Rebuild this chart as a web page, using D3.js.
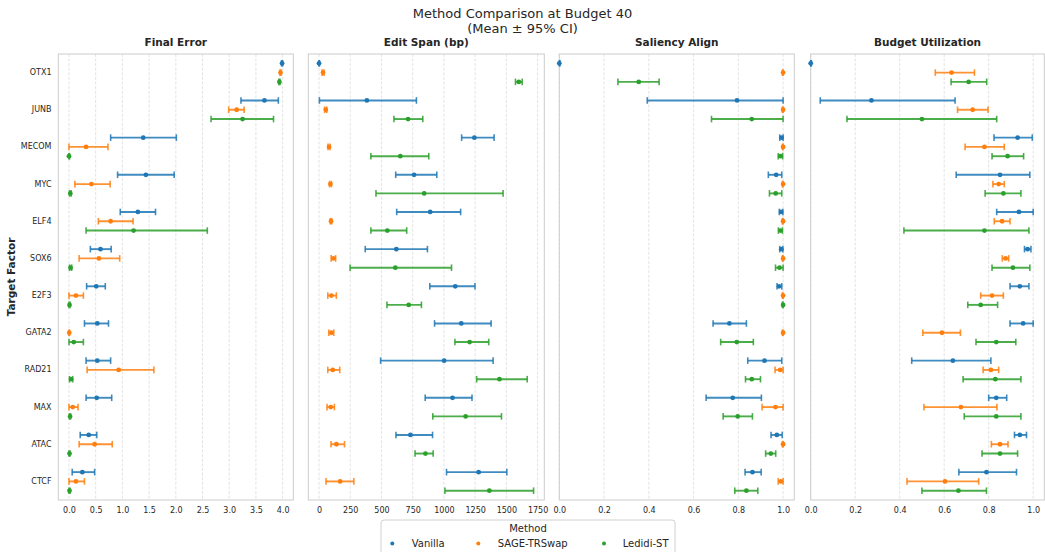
<!DOCTYPE html>
<html><head><meta charset="utf-8">
<script src="https://cdn.jsdelivr.net/npm/d3@7"></script>
<style>body{margin:0;background:#fff} svg{display:block;font-family:"DejaVu Sans",sans-serif}</style>
</head><body><svg id="c" width="1045" height="552"></svg>
<script>
const categories = ["OTX1","JUNB","MECOM","MYC","ELF4","SOX6","E2F3","GATA2","RAD21","MAX","ATAC","CTCF"];
const methods = ["Vanilla","SAGE-TRSwap","Ledidi-ST"];
const colors = ["#1f77b4","#ff7f0e","#2ca02c"];
const metricTitles = ["Final Error","Edit Span (bp)","Saliency Align","Budget Utilization"];
const tickValues1 = [0,0.5,1,1.5,2,2.5,3,3.5,4];
const tickValues2 = [0,250,500,750,1000,1250,1500,1750];
const tickValues3 = [0,0.2,0.4,0.6,0.8,1.0];
const tickValues4 = [0,0.2,0.4,0.6,0.8,1.0];

// each entry: [mean, ciLow, ciHigh]
const finalErrorVanilla = [[3.99,3.98,4.0],[3.66,3.22,3.92],[1.39,0.78,2.01],[1.44,0.91,1.97],[1.29,0.96,1.62],[0.59,0.40,0.79],[0.51,0.33,0.68],[0.53,0.29,0.74],[0.53,0.32,0.78],[0.52,0.32,0.80],[0.37,0.21,0.52],[0.25,0.06,0.48]];
const finalErrorSage = [[3.96,3.95,3.97],[3.14,2.99,3.28],[0.32,0.0,0.73],[0.42,0.11,0.77],[0.78,0.55,1.20],[0.56,0.19,0.95],[0.13,0.0,0.27],[0.005,0.0,0.01],[0.93,0.34,1.59],[0.07,0.0,0.17],[0.48,0.19,0.81],[0.13,0.0,0.29]];
const finalErrorLedidi = [[3.94,3.93,3.95],[3.25,2.66,3.83],[0.0,0.0,0.01],[0.025,0.01,0.04],[1.21,0.32,2.59],[0.03,0.01,0.05],[0.01,0.0,0.02],[0.09,0.0,0.27],[0.04,0.01,0.07],[0.02,0.01,0.03],[0.01,0.0,0.02],[0.01,0.0,0.02]];

const editSpanVanilla = [[0,0,3],[383,3,780],[1244,1142,1402],[761,614,943],[890,622,1134],[619,370,868],[1091,887,1249],[1139,925,1378],[1002,493,1394],[1069,850,1225],[732,616,909],[1278,1021,1504]];
const editSpanSage = [[32,25,40],[54,45,62],[80,72,88],[91,84,99],[96,90,102],[115,97,133],[99,70,139],[99,78,118],[110,70,166],[94,64,123],[139,96,204],[169,56,279]];
const editSpanLedidi = [[1600,1573,1627],[713,600,831],[651,415,879],[842,456,1474],[547,415,702],[611,249,1061],[718,544,820],[1206,1088,1359],[1445,1262,1667],[1174,911,1461],[852,769,914],[1364,1008,1718]];

const saliencyVanilla = [[0.0,0.0,0.003],[0.794,0.393,1.0],[0.993,0.985,1.0],[0.969,0.934,0.994],[0.991,0.983,0.999],[0.992,0.985,0.999],[0.982,0.973,0.994],[0.760,0.687,0.836],[0.917,0.842,0.994],[0.775,0.656,0.903],[0.972,0.946,0.996],[0.863,0.830,0.902]];
const saliencySage = [[1.0,0.997,1.0],[1.0,0.997,1.0],[1.0,0.997,1.0],[1.0,0.997,1.0],[1.0,0.997,1.0],[1.0,0.997,1.0],[1.0,0.997,1.0],[1.0,0.997,1.0],[0.987,0.964,1.0],[0.966,0.906,1.0],[1.0,0.997,1.0],[0.990,0.978,1.0]];
const saliencyLedidi = [[0.355,0.262,0.446],[0.860,0.680,1.0],[0.988,0.978,0.998],[0.967,0.939,0.994],[0.988,0.979,0.997],[0.984,0.966,1.0],[1.0,0.997,1.0],[0.793,0.721,0.867],[0.860,0.832,0.899],[0.797,0.732,0.863],[0.945,0.922,0.967],[0.836,0.784,0.887]];

const budgetVanilla = [[0.0,0.0,0.003],[0.273,0.043,0.649],[0.930,0.824,0.996],[0.851,0.654,0.985],[0.936,0.836,1.0],[0.975,0.961,0.990],[0.940,0.896,0.981],[0.955,0.896,1.0],[0.639,0.454,0.810],[0.834,0.800,0.881],[0.940,0.916,0.970],[0.790,0.666,0.925]];
const budgetSage = [[0.633,0.560,0.736],[0.728,0.660,0.797],[0.781,0.694,0.870],[0.845,0.819,0.870],[0.860,0.825,0.896],[0.876,0.861,0.890],[0.815,0.764,0.866],[0.590,0.504,0.673],[0.810,0.775,0.845],[0.675,0.509,0.837],[0.851,0.812,0.887],[0.604,0.433,0.755]];
const budgetLedidi = [[0.710,0.631,0.791],[0.500,0.163,0.836],[0.885,0.815,0.957],[0.866,0.784,0.945],[0.781,0.419,0.981],[0.909,0.815,0.985],[0.764,0.706,0.840],[0.834,0.743,0.922],[0.830,0.685,0.945],[0.834,0.690,0.945],[0.851,0.770,0.930],[0.664,0.500,0.790]];

const panelData = [
  [finalErrorVanilla, finalErrorSage, finalErrorLedidi],
  [editSpanVanilla, editSpanSage, editSpanLedidi],
  [saliencyVanilla, saliencySage, saliencyLedidi],
  [budgetVanilla, budgetSage, budgetLedidi]
];
const panelTicks = [tickValues1, tickValues2, tickValues3, tickValues4];
const tickFormats = [d=>d.toFixed(1), d=>String(d), d=>d.toFixed(1), d=>d.toFixed(1)];
const panelLefts = [58.3, 308.3, 559.3, 810.7];
const panelRights = [293.3, 544.3, 794.3, 1044.3];
const fixedDomains = [null, null, [0,1.05], [0,1.05]];

const svg = d3.select("#c");
const plotTop = 54, plotBottom = 500;
const y = d3.scaleBand().domain(categories).range([plotTop,plotBottom]).padding(0);
const bw = y.bandwidth();
const dodge = 0.25*bw;

panelData.forEach((series, p) => {
  let dom = fixedDomains[p];
  if (!dom) {
    const all = series.flat();
    const mn = d3.min(all, d=>d[1]), mx = d3.max(all, d=>d[2]);
    const m = (mx-mn)*0.05;
    dom = [mn-m, mx+m];
  }
  const x = d3.scaleLinear().domain(dom).range([panelLefts[p], panelRights[p]]);
  const g = svg.append("g");
  g.selectAll("line.grid").data(panelTicks[p]).join("line")
    .attr("x1", d=>x(d)).attr("x2", d=>x(d)).attr("y1", plotTop).attr("y2", plotBottom)
    .attr("stroke", "#dcdcdc").attr("stroke-width", 0.8).attr("stroke-dasharray", "3,1.6");
  g.append("rect").attr("x", panelLefts[p]).attr("y", plotTop)
    .attr("width", panelRights[p]-panelLefts[p]).attr("height", plotBottom-plotTop)
    .attr("fill", "none").attr("stroke", "#cccccc").attr("stroke-width", 1);
  const ax = g.append("g").attr("transform", `translate(0,${plotBottom})`)
    .call(d3.axisBottom(x).tickValues(panelTicks[p]).tickFormat(tickFormats[p]).tickSize(0).tickPadding(7));
  ax.select(".domain").remove();
  ax.selectAll("text").attr("font-size", 8).attr("fill", "#262626").attr("font-family", "DejaVu Sans");
  if (p === 0) {
    const ay = g.append("g").attr("transform", `translate(${panelLefts[p]},0)`)
      .call(d3.axisLeft(y).tickSize(0).tickPadding(6.8));
    ay.select(".domain").remove();
    ay.selectAll("text").attr("font-size", 8).attr("fill", "#262626").attr("font-family", "DejaVu Sans");
  }
  g.append("text").attr("x", (panelLefts[p]+panelRights[p])/2).attr("y", 46)
    .attr("text-anchor", "middle").attr("font-size", 10.5).attr("font-weight", "bold")
    .attr("fill", "#262626").text(metricTitles[p]);
  series.forEach((vals, m) => {
    const sg = g.append("g").attr("stroke", colors[m]).attr("fill", colors[m]);
    vals.forEach((v, i) => {
      const cy = y(categories[i]) + bw/2 + (m-1)*dodge;
      sg.append("line").attr("x1", x(v[1])).attr("x2", x(v[2])).attr("y1", cy).attr("y2", cy)
        .attr("stroke-width", 1.9).attr("stroke-opacity", 0.85);
      [v[1], v[2]].forEach(c => sg.append("line").attr("x1", x(c)).attr("x2", x(c))
        .attr("y1", cy-3.3).attr("y2", cy+3.3).attr("stroke-width", 1.6).attr("stroke-opacity", 0.85));
      sg.append("circle").attr("cx", x(v[0])).attr("cy", cy).attr("r", 2.4).attr("stroke", "none");
    });
  });
});

svg.append("text").attr("transform", `translate(15,${(plotTop+plotBottom)/2}) rotate(-90)`)
  .attr("text-anchor", "middle").attr("font-size", 10.5).attr("font-weight", "bold")
  .attr("fill", "#262626").text("Target Factor");

svg.append("text").attr("x", 522.5).attr("y", 17.5).attr("text-anchor", "middle")
  .attr("font-size", 13).attr("fill", "#262626").text("Method Comparison at Budget 40");
svg.append("text").attr("x", 522.5).attr("y", 33).attr("text-anchor", "middle")
  .attr("font-size", 13).attr("fill", "#262626").text("(Mean \u00b1 95% CI)");

const lg = svg.append("g");
lg.append("rect").attr("x", 381).attr("y", 520).attr("width", 294).attr("height", 44).attr("rx", 3)
  .attr("fill", "#fff").attr("stroke", "#d0d0d0").attr("stroke-width", 1);
lg.append("text").attr("x", 528).attr("y", 531.5).attr("text-anchor", "middle")
  .attr("font-size", 10).attr("fill", "#262626").text("Method");
const dotX = [392.3, 478.3, 604];
const textX = [411.7, 497.7, 622.7];
methods.forEach((name, m) => {
  lg.append("circle").attr("cx", dotX[m]).attr("cy", 543.5).attr("r", 2).attr("fill", colors[m]);
  lg.append("text").attr("x", textX[m]).attr("y", 547).attr("font-size", 10).attr("fill", "#262626").text(name);
});
</script></body></html>
